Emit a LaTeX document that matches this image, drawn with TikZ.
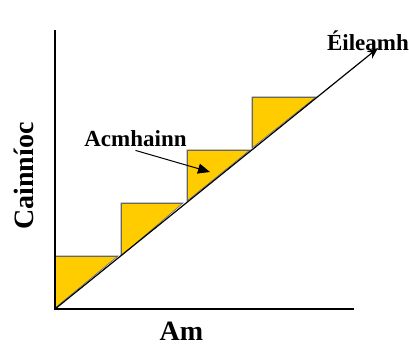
\documentclass[tikz,border=0pt]{standalone}
\usepackage{fontspec}
\setmainfont{Liberation Serif}
\usetikzlibrary{arrows.meta}
\definecolor{stepyellow}{HTML}{FFCC00}
\begin{document}
\begin{tikzpicture}[x=1pt,y=-1pt,
  axis/.style={line width=2.4pt,black},
  tri/.style={fill=stepyellow,draw=black!60,line width=0.6pt},
  lbl/.style={font=\bfseries\fontsize{23}{26}\selectfont,inner sep=0pt},
  biglbl/.style={font=\bfseries\fontsize{28}{32}\selectfont,inner sep=0pt}]
\useasboundingbox (0,0) rectangle (409,347);
\coordinate (O) at (55,309);
\coordinate (ytop) at (55,30);
\coordinate (xend) at (354,309);
\coordinate (tip) at (378,48);
% steps
\fill[tri] (55,308) -- (55,256) -- (118,256) -- cycle;
\fill[tri] (121,256) -- (121,203) -- (183,203) -- cycle;
\fill[tri] (187,201) -- (187,150) -- (250,150) -- cycle;
\fill[tri] (252,148) -- (252,97) -- (316,97) -- cycle;
\draw[tri,fill=none] (55,308) -- (55,256) -- (118,256);
\draw[tri,fill=none] (121,256) -- (121,203) -- (183,203);
\draw[tri,fill=none] (187,201) -- (187,150) -- (250,150);
\draw[tri,fill=none] (252,148) -- (252,97) -- (316,97);
% demand line
\draw[line width=1.2pt,-{Stealth[length=11pt,width=9pt]}] (O) -- (tip);
% axes
\draw[axis] (ytop) -- (O) -- (xend);
% labels
\node[lbl,anchor=base] (eil) at (368,51) {Éileamh};
\node[lbl,anchor=base] (acm) at (135.5,147) {Acmhainn};
\coordinate (acmtip) at (210,172);
\draw[line width=1pt,-{Triangle[length=12pt,width=10pt]}] (acm.south) ++(0,3) -- (acmtip);
\node[biglbl,anchor=base] (am) at (181.5,340) {Am};
\node[biglbl,anchor=base,rotate=90] (cain) at (33,176) {Cainníoc};
\end{tikzpicture}
\end{document}
